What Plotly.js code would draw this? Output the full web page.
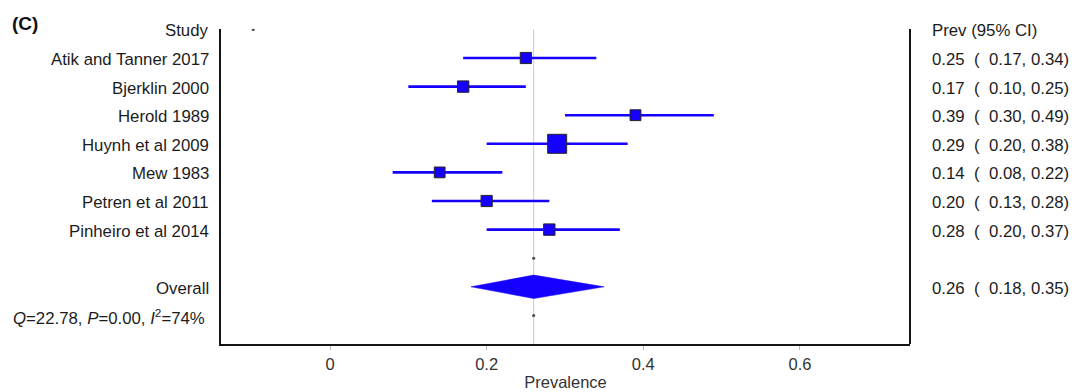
<!DOCTYPE html>
<html>
<head>
<meta charset="utf-8">
<script src="https://cdn.plot.ly/plotly-3.0.1.min.js"></script>
<style>
  html, body { margin: 0; padding: 0; background: #ffffff; }
  #chart { width: 1072px; height: 392px; }
</style>
</head>
<body>
<div id="chart"></div>
<script>
// ---- data ----
const studies = ["Atik and Tanner 2017", "Bjerklin 2000", "Herold 1989", "Huynh et al 2009",
                 "Mew 1983", "Petren et al 2011", "Pinheiro et al 2014"];
const prev  = [0.25, 0.17, 0.39, 0.29, 0.14, 0.20, 0.28];
const lower = [0.17, 0.10, 0.30, 0.20, 0.08, 0.13, 0.20];
const upper = [0.34, 0.25, 0.49, 0.38, 0.22, 0.28, 0.37];
const weights = [11.6, 12.0, 10.9, 33.5, 10.8, 11.6, 12.0];   // estimated study weights (%)
const overallPrev = 0.26, overallLower = 0.18, overallUpper = 0.35;
const statQ = 22.78, statP = 0.00, statI2 = 74;
const xTickVals = [0, 0.2, 0.4, 0.6];
const xTickText = ["0", "0.2", "0.4", "0.6"];
const headerDotX = [-0.098];
const headerLeft = "Study", headerRight = "Prev (95% CI)";
const overallLabel = "Overall";
const panelLabel = "(C)";
const xTitle = "Prevalence";

// ---- rows ----
const studyRows = studies.map((_, i) => i + 1);
const blankRow = studies.length + 1;
const overallRow = studies.length + 2;
const statRow = studies.length + 3;

const BLUE = "#1500ff";
const TXT = "#1c1c1c";
const FONT = "Liberation Sans, Arial, sans-serif";
const NB = "\u00A0";
const FS = 16.8;

function ciText(e, l, u) {
  return e.toFixed(2) + NB + NB + "(" + NB + NB + l.toFixed(2) + "," + NB + u.toFixed(2) + ")";
}

// CI lines
const ciX = [], ciY = [];
studies.forEach((_, i) => { ciX.push(lower[i], upper[i], null); ciY.push(studyRows[i], studyRows[i], null); });

const traces = [
  { type: "scatter", mode: "lines", x: ciX, y: ciY, hoverinfo: "skip",
    line: { color: BLUE, width: 2.6 }, showlegend: false },
  { type: "scatter", mode: "markers", x: prev, y: studyRows, hoverinfo: "skip",
    marker: { symbol: "square", color: BLUE, opacity: 1, size: weights.map(w => 19 * Math.sqrt(w / 33.5)),
              line: { color: "#262626", width: 1 } }, showlegend: false },
  { type: "scatter", mode: "lines", fill: "toself", fillcolor: BLUE, hoverinfo: "skip",
    x: [overallLower, overallPrev, overallUpper, overallPrev, overallLower],
    y: [overallRow, overallRow - 0.41, overallRow, overallRow + 0.41, overallRow],
    line: { color: BLUE, width: 0.5 }, showlegend: false },
  { type: "scatter", mode: "markers", hoverinfo: "skip",
    x: [headerDotX[0], overallPrev, overallPrev], y: [0, blankRow, statRow],
    marker: { color: "#444", size: 3, opacity: 1 }, showlegend: false }
];

// text annotations
const L = 221, R = 910, W = R - L;
const leftX = (211 - L) / W, rightX = (930 - L) / W;
const ann = [];
function addLeft(text, row) {
  ann.push({ xref: "paper", yref: "y", x: leftX, y: row, xanchor: "right", yanchor: "middle", yshift: -1.5,
             text: text, showarrow: false, font: { family: FONT, size: FS, color: TXT } });
}
function addRight(text, row) {
  ann.push({ xref: "paper", yref: "y", x: rightX, y: row, xanchor: "left", yanchor: "middle", yshift: -1.5,
             text: text, showarrow: false, font: { family: FONT, size: FS, color: TXT } });
}
addLeft(headerLeft, 0);
addRight(headerRight, 0);
studies.forEach((s, i) => {
  addLeft(s, studyRows[i]);
  addRight(ciText(prev[i], lower[i], upper[i]), studyRows[i]);
});
addLeft(overallLabel, overallRow);
addRight(ciText(overallPrev, overallLower, overallUpper), overallRow);
ann.push({ xref: "paper", yref: "y", x: (11 - L) / W, y: statRow, xanchor: "left", yanchor: "middle", yshift: -1.5,
           showarrow: false, font: { family: FONT, size: FS, color: TXT },
           text: "<i>Q</i>=" + statQ.toFixed(2) + ", <i>P</i>=" + statP.toFixed(2) + ", <i>I</i><sup>2</sup>=" + statI2 + "%" });
ann.push({ xref: "paper", yref: "paper", x: (10 - L) / W, y: (344 - 23) / 315, xanchor: "left", yanchor: "middle",
           showarrow: false, text: "<b>" + panelLabel + "</b>", font: { family: FONT, size: 19, color: "#111" } });

const layout = {
  width: 1072, height: 392,
  margin: { l: L, r: 1072 - R, t: 29, b: 48, pad: 0 },
  paper_bgcolor: "#ffffff", plot_bgcolor: "#ffffff",
  showlegend: false,
  font: { family: FONT, color: TXT },
  xaxis: {
    range: [(L - 330) / 783.3, (R - 330) / 783.3],
    tickvals: xTickVals, ticktext: xTickText,
    showgrid: false, zeroline: false,
    showline: true, linecolor: "#141414", linewidth: 2,
    ticks: "outside", ticklen: 4, tickwidth: 1, tickcolor: "#b5b5b5",
    tickfont: { family: FONT, size: 16.5, color: "#333" },
    title: { text: xTitle, font: { family: FONT, size: 16.5, color: "#333" }, standoff: 5 }
  },
  yaxis: {
    range: [11.0, -0.014],
    showgrid: false, zeroline: false, showticklabels: false, ticks: "",
    showline: true, linecolor: "#141414", linewidth: 2
  },
  shapes: [
    { type: "line", xref: "x", yref: "paper", x0: overallPrev, x1: overallPrev, y0: 0, y1: 1,
      line: { color: "#c9c9c9", width: 1 }, layer: "below" },
    { type: "line", xref: "paper", yref: "paper", x0: 1, x1: 1, y0: 0, y1: 1,
      line: { color: "#141414", width: 2 } }
  ],
  annotations: ann
};

Plotly.newPlot("chart", traces, layout, { staticPlot: true, displayModeBar: false });
</script>
</body>
</html>
